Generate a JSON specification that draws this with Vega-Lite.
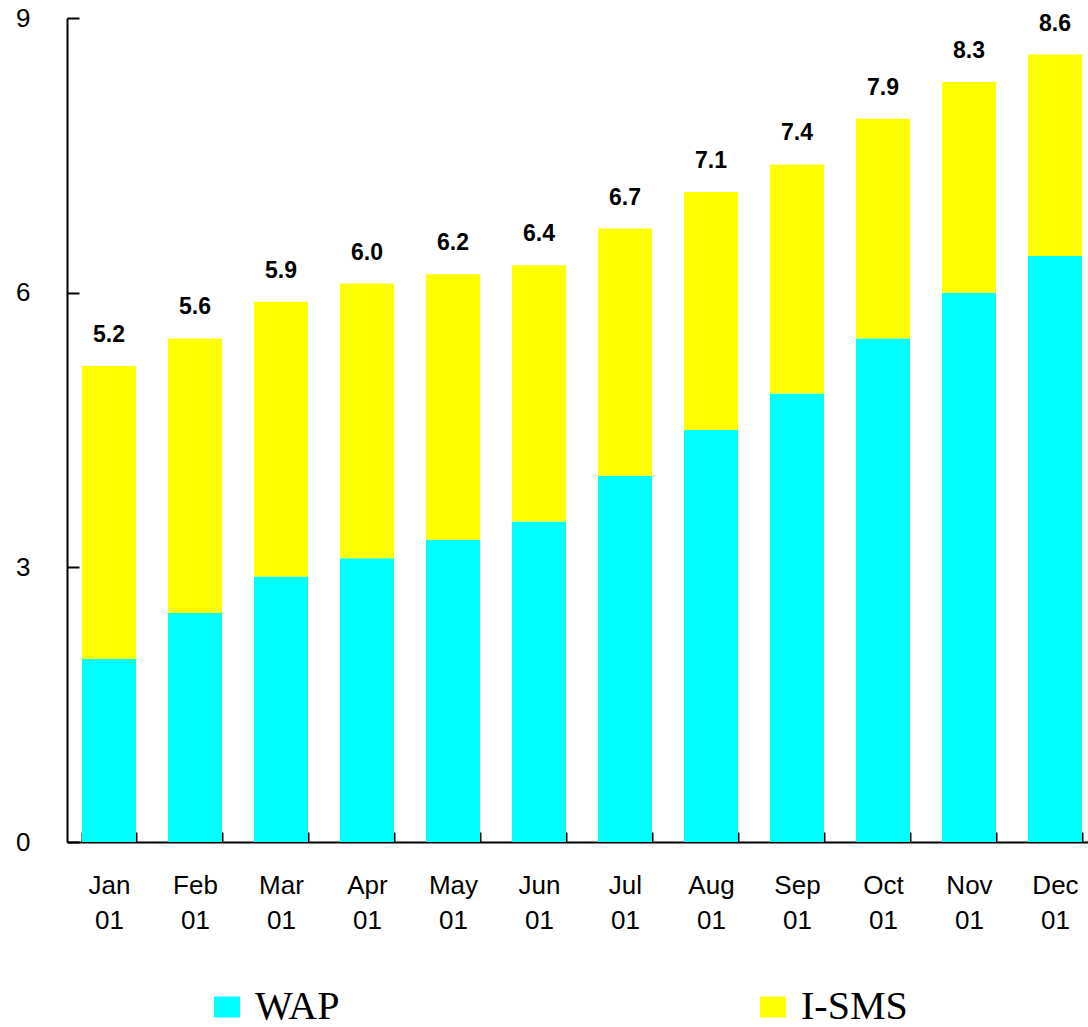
{
  "$schema": "https://vega.github.io/schema/vega-lite/v6.json",
  "width": 1021,
  "height": 824,
  "autosize": {"type": "none"},
  "padding": {"left": 67, "top": 18, "right": 0, "bottom": 185},
  "background": "white",
  "config": {
    "view": {"stroke": null},
    "axis": {
      "grid": false,
      "domainColor": "black",
      "tickColor": "black",
      "labelColor": "black",
      "labelFont": "Liberation Sans",
      "domainWidth": 2,
      "tickWidth": 2
    }
  },
  "datasets": {
    "series": [
      {"month": "Jan 01", "series": "WAP", "value": 2.0},
      {"month": "Jan 01", "series": "I-SMS", "value": 3.2},
      {"month": "Feb 01", "series": "WAP", "value": 2.5},
      {"month": "Feb 01", "series": "I-SMS", "value": 3.0},
      {"month": "Mar 01", "series": "WAP", "value": 2.9},
      {"month": "Mar 01", "series": "I-SMS", "value": 3.0},
      {"month": "Apr 01", "series": "WAP", "value": 3.1},
      {"month": "Apr 01", "series": "I-SMS", "value": 3.0},
      {"month": "May 01", "series": "WAP", "value": 3.3},
      {"month": "May 01", "series": "I-SMS", "value": 2.9},
      {"month": "Jun 01", "series": "WAP", "value": 3.5},
      {"month": "Jun 01", "series": "I-SMS", "value": 2.8},
      {"month": "Jul 01", "series": "WAP", "value": 4.0},
      {"month": "Jul 01", "series": "I-SMS", "value": 2.7},
      {"month": "Aug 01", "series": "WAP", "value": 4.5},
      {"month": "Aug 01", "series": "I-SMS", "value": 2.6},
      {"month": "Sep 01", "series": "WAP", "value": 4.9},
      {"month": "Sep 01", "series": "I-SMS", "value": 2.5},
      {"month": "Oct 01", "series": "WAP", "value": 5.5},
      {"month": "Oct 01", "series": "I-SMS", "value": 2.4},
      {"month": "Nov 01", "series": "WAP", "value": 6.0},
      {"month": "Nov 01", "series": "I-SMS", "value": 2.3},
      {"month": "Dec 01", "series": "WAP", "value": 6.4},
      {"month": "Dec 01", "series": "I-SMS", "value": 2.2}
    ],
    "totals": [
      {"month": "Jan 01", "total": 5.2, "label": "5.2"},
      {"month": "Feb 01", "total": 5.5, "label": "5.6"},
      {"month": "Mar 01", "total": 5.9, "label": "5.9"},
      {"month": "Apr 01", "total": 6.1, "label": "6.0"},
      {"month": "May 01", "total": 6.2, "label": "6.2"},
      {"month": "Jun 01", "total": 6.3, "label": "6.4"},
      {"month": "Jul 01", "total": 6.7, "label": "6.7"},
      {"month": "Aug 01", "total": 7.1, "label": "7.1"},
      {"month": "Sep 01", "total": 7.4, "label": "7.4"},
      {"month": "Oct 01", "total": 7.9, "label": "7.9"},
      {"month": "Nov 01", "total": 8.3, "label": "8.3"},
      {"month": "Dec 01", "total": 8.6, "label": "8.6"}
    ]
  },
  "layer": [
    {
      "data": {"name": "series"},
      "mark": {"type": "bar"},
      "encoding": {
        "x": {
          "field": "month",
          "type": "nominal",
          "sort": null,
          "scale": {"paddingInner": 0.372, "paddingOuter": 0.122, "align": 0.714},
          "axis": {
            "title": null,
            "labelAngle": 0,
            "labelExpr": "isValid(datum.value) ? split(datum.value, ' ') : ''",
            "labelFontSize": 26,
            "labelLineHeight": 35,
            "labelBaseline": "top",
            "tickBand": "extent",
            "tickSize": -10,
            "labelPadding": 40
          }
        },
        "y": {
          "field": "value",
          "type": "quantitative",
          "stack": "zero",
          "scale": {"domain": [0, 9], "nice": false},
          "axis": {
            "values": [0, 3, 6, 9],
            "format": "d",
            "title": null,
            "tickSize": -12,
            "labelFontSize": 26,
            "labelPadding": 49
          }
        },
        "color": {
          "field": "series",
          "type": "nominal",
          "scale": {"domain": ["WAP", "I-SMS"], "range": ["#00FFFF", "#FFFF00"]},
          "legend": {
            "orient": "none",
            "legendX": 140,
            "legendY": 969,
            "direction": "horizontal",
            "title": null,
            "symbolType": "M-1,-0.808L1,-0.808L1,0.808L-1,0.808Z",
            "symbolSize": 676,
            "symbolStrokeWidth": 0,
            "symbolOpacity": 1,
            "labelFont": "Liberation Serif",
            "labelFontSize": 40,
            "labelColor": "black",
            "labelOffset": 8,
            "columnPadding": 413
          }
        },
        "order": {"field": "series", "sort": "descending"}
      }
    },
    {
      "data": {"name": "totals"},
      "mark": {
        "type": "text",
        "dy": -24,
        "baseline": "alphabetic",
        "fontWeight": "bold",
        "fontSize": 23,
        "font": "Liberation Sans",
        "color": "black"
      },
      "encoding": {
        "x": {"field": "month", "type": "nominal", "sort": null},
        "y": {"field": "total", "type": "quantitative"},
        "text": {"field": "label", "type": "nominal"}
      }
    }
  ]
}
